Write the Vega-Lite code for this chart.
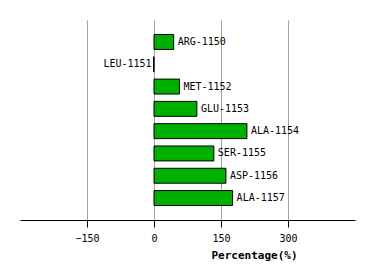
{
  "$schema": "https://vega.github.io/schema/vega-lite/v6.json",
  "width": 335,
  "height": 200,
  "autosize": {"type": "none"},
  "padding": {"left": 20, "top": 20, "right": 19, "bottom": 60},
  "background": "white",
  "config": {"view": {"stroke": null}},
  "data": {"values": [
    {"residue": "ARG-1150", "pct": 44},
    {"residue": "LEU-1151", "pct": -1},
    {"residue": "MET-1152", "pct": 57},
    {"residue": "GLU-1153", "pct": 96},
    {"residue": "ALA-1154", "pct": 208},
    {"residue": "SER-1155", "pct": 134},
    {"residue": "ASP-1156", "pct": 161},
    {"residue": "ALA-1157", "pct": 176}
  ]},
  "encoding": {
    "y": {"field": "residue", "type": "nominal", "sort": null, "axis": null,
          "scale": {"paddingInner": 0.33, "paddingOuter": 0.65}},
    "x": {"field": "pct", "type": "quantitative",
          "scale": {"domain": [-300, 450], "nice": false, "zero": false},
          "axis": {"values": [-150, 0, 150, 300], "title": "Percentage(%)",
                   "grid": true, "gridColor": "#a0a0a0", "gridWidth": 1,
                   "domainColor": "black", "tickColor": "black", "tickSize": 7,
                   "labelFont": "DejaVu Sans Mono", "labelFontSize": 10, "labelColor": "black",
                   "labelPadding": 6,
                   "titleFont": "DejaVu Sans Mono", "titleFontSize": 11, "titleFontWeight": "bold",
                   "titleColor": "black", "titleX": 234, "titleAlign": "center", "titleY": 29}}
  },
  "layer": [
    {"mark": {"type": "bar", "color": "#00b000", "stroke": "black", "strokeWidth": 1}},
    {"transform": [{"filter": "datum.pct >= 0"}],
     "mark": {"type": "text", "align": "left", "baseline": "middle", "dx": 4,
              "font": "DejaVu Sans Mono", "fontSize": 10, "color": "black"},
     "encoding": {"text": {"field": "residue"}}},
    {"transform": [{"filter": "datum.pct < 0"}],
     "mark": {"type": "text", "align": "right", "baseline": "middle", "dx": -2,
              "font": "DejaVu Sans Mono", "fontSize": 10, "color": "black"},
     "encoding": {"text": {"field": "residue"}}}
  ]
}
